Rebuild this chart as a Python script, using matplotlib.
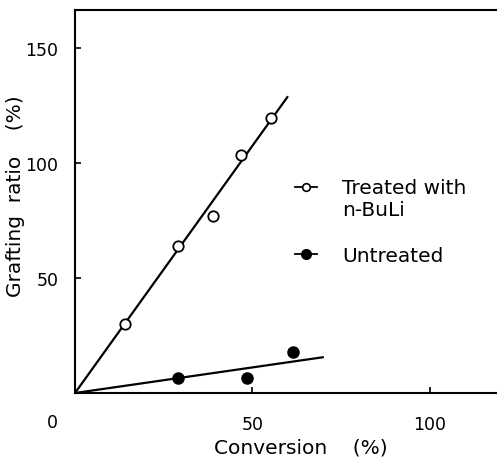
import matplotlib
matplotlib.use("Agg")
import matplotlib.pyplot as plt
from matplotlib.lines import Line2D
from matplotlib.legend_handler import HandlerLine2D
from matplotlib.transforms import Affine2D

# Data
treated_x = [14.1, 29.0, 38.9, 46.8, 55.2]
treated_y = [30.0, 64.0, 77.0, 103.5, 119.6]
treated_fit_x = [0.0, 60.0]
treated_fit_y = [0.0, 129.0]

untreated_x = [29.0, 48.5, 61.4]
untreated_y = [6.4, 6.4, 17.7]
untreated_fit_x = [0.0, 70.1]
untreated_fit_y = [0.0, 15.6]

xticks = [50, 100]
yticks = [50, 100, 150]
series_labels = ['Treated with\nn-BuLi', 'Untreated']

plt.rcParams['font.family'] = ['DejaVu Sans']

fig = plt.figure(figsize=(4.97, 4.60), dpi=100)
ax = fig.add_axes([75/497, 66/460, 1 - 75/497, (394-11)/460])

ax.plot(treated_fit_x, treated_fit_y, color='black', lw=1.6, solid_capstyle='butt', clip_on=False)
ax.plot(untreated_fit_x, untreated_fit_y, color='black', lw=1.6, solid_capstyle='butt', clip_on=False)
ax.plot(treated_x, treated_y, 'o', ms=7.5, mfc='white', mec='black', mew=1.3, zorder=3)
ax.plot(untreated_x, untreated_y, 'o', ms=8, mfc='black', mec='black', zorder=3)

ax.set_xlim(0, 118.9)
ax.set_ylim(0, 166.5)
ax.set_xticks(xticks)
ax.set_yticks(yticks)
ax.tick_params(direction='in', length=4, width=1.2, labelsize=12.5)
ax.tick_params(axis='x', pad=16)
ax.tick_params(axis='y', pad=12)
for s in ['left', 'bottom', 'top']:
    ax.spines[s].set_linewidth(1.5)
ax.spines['right'].set_visible(False)

ax.annotate('0', xy=(0, 0), xycoords='data', xytext=(-23, -29), textcoords='offset pixels',
            ha='center', va='center', fontsize=12.5)

ax.set_xlabel('Conversion    (%)', fontsize=14.5, va='center')
ax.xaxis.set_label_coords((301-75)/(497-75), -(448-394)/383)
ax.set_ylabel('Grafting  ratio    (%)', fontsize=14.5, va='center')
ax.yaxis.set_label_coords(-(75-16)/(422), (394-196)/383)


class ShiftedLine(HandlerLine2D):
    def __init__(self, dy=0.0, **kw):
        super().__init__(**kw)
        self.dy = dy

    def create_artists(self, legend, orig_handle, xdescent, ydescent, width, height, fontsize, trans):
        return super().create_artists(legend, orig_handle, xdescent, ydescent, width, height,
                                      fontsize, Affine2D().translate(0, self.dy) + trans)


h_treated = Line2D([], [], color='black', lw=1.3, marker='o', ms=5.5, mfc='white', mec='black', mew=1.2)
h_untreated = Line2D([], [], color='black', lw=1.3, marker='o', ms=7, mfc='black', mec='black')
leg_fs = 14.5
leg = ax.legend([h_treated, h_untreated], series_labels, loc='upper left',
                bbox_to_anchor=((295-75)/422, (394-179)/383),
                frameon=False, fontsize=leg_fs, handlelength=1.1, handletextpad=1.25,
                labelspacing=1.35, borderpad=0, borderaxespad=0,
                handler_map={h_treated: ShiftedLine(dy=0.6 * leg_fs)})

fig.savefig('out.png', dpi=100)
